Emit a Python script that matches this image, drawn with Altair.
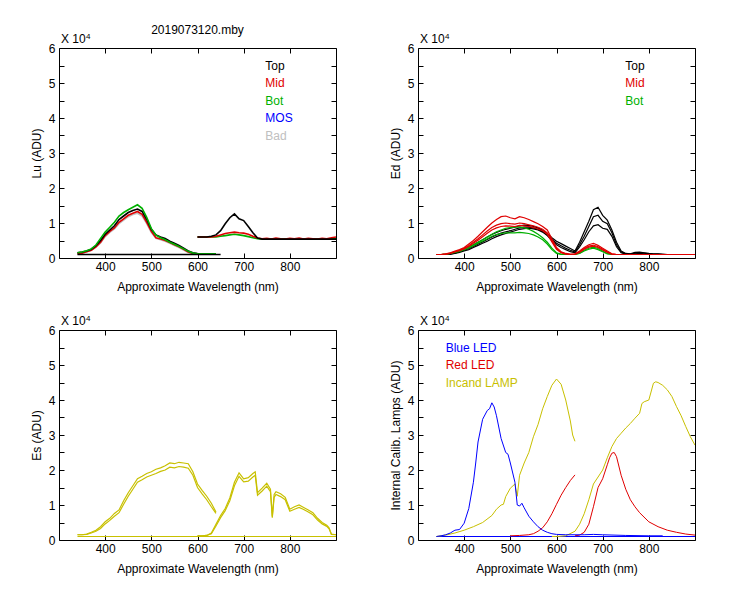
import altair as alt
import pandas as pd

# ---------------- axis tick positions / labels ----------------
XTICKS = [400, 500, 600, 700, 800]
YTICKS = [0.0, 0.5, 1.0, 1.5, 2.0, 2.5, 3.0, 3.5, 4.0, 4.5, 5.0, 5.5, 6.0]
EXP_TEXT = ["X 10"]
EXP_SUP = ["4"]
MAIN_TITLE = ["2019073120.mby"]

GROUPS = ["Top", "Mid", "Bot", "MOS", "Bad", "Blue LED", "Red LED", "Incand LAMP", "Es"]
GROUP_COLORS = ["#000000", "#e00000", "#00b000", "#0000ff", "#c0c0c0",
                "#0000ff", "#e00000", "#c8c000", "#c8c000"]

# ---------------- Lu panel ----------------
LU_WL1 = list(range(340, 641, 10))
LU_TOP1 = [0.15, 0.17, 0.20, 0.25, 0.35, 0.50, 0.68, 0.80, 0.92, 1.10,
           1.20, 1.30, 1.36, 1.40, 1.33, 1.10, 0.82, 0.66, 0.60, 0.56,
           0.48, 0.42, 0.36, 0.28, 0.20, 0.15, 0.13, 0.12, 0.12, 0.12,
           0.12]
LU_BOT1 = [0.15, 0.17, 0.21, 0.26, 0.37, 0.56, 0.74, 0.88, 1.02, 1.20,
           1.30, 1.38, 1.45, 1.52, 1.42, 1.16, 0.84, 0.65, 0.58, 0.52,
           0.45, 0.39, 0.33, 0.26, 0.19, 0.14, 0.12, 0.12, 0.12, 0.12,
           0.12]
LU_MID1 = [0.12, 0.14, 0.18, 0.22, 0.32, 0.45, 0.64, 0.76, 0.86, 1.02,
           1.12, 1.22, 1.28, 1.33, 1.25, 1.02, 0.76, 0.58, 0.54, 0.50,
           0.44, 0.38, 0.32, 0.25, 0.17, 0.13, 0.12, 0.12, 0.12, 0.12,
           0.12]
LU_BAD1 = [0.13, 0.15, 0.18, 0.22, 0.31, 0.43, 0.61, 0.73, 0.83, 0.98,
           1.08, 1.18, 1.24, 1.28, 1.20, 0.98, 0.73, 0.56, 0.52, 0.48,
           0.42, 0.36, 0.30, 0.23, 0.16, 0.13, 0.12, 0.12, 0.12, 0.12,
           0.12]
LU_BASE_WL = [340, 650]
LU_BASE = [0.10, 0.10]
LU_WL2 = list(range(600, 901, 10))
LU_TOP2 = [0.60, 0.60, 0.60, 0.62, 0.66, 0.78, 0.98, 1.15, 1.26, 1.12,
           1.07, 0.90, 0.72, 0.57, 0.54, 0.54, 0.54, 0.54, 0.54, 0.54,
           0.54, 0.54, 0.54, 0.54, 0.54, 0.54, 0.54, 0.54, 0.54, 0.54,
           0.54]
LU_MID2 = [0.60, 0.60, 0.60, 0.60, 0.62, 0.66, 0.70, 0.72, 0.74, 0.72,
           0.71, 0.68, 0.62, 0.57, 0.55, 0.56, 0.54, 0.57, 0.55, 0.54,
           0.56, 0.55, 0.57, 0.54, 0.56, 0.55, 0.54, 0.56, 0.55, 0.58,
           0.60]
LU_BOT2 = [0.60, 0.60, 0.60, 0.60, 0.60, 0.62, 0.64, 0.66, 0.68, 0.66,
           0.64, 0.61, 0.58, 0.55, 0.54, 0.55, 0.54, 0.55, 0.54, 0.55,
           0.54, 0.55, 0.54, 0.55, 0.54, 0.55, 0.54, 0.55, 0.54, 0.55,
           0.56]
LU_LEGEND = ["Top", "Mid", "Bot", "MOS", "Bad"]
LU_LEGEND_Y = [5.5, 5.0, 4.5, 4.0, 3.5]

# ---------------- Ed panel ----------------
ED_WL = list(range(340, 901, 10))
ED_TOP_A = [0.10, 0.10, 0.10, 0.12, 0.16, 0.21, 0.27, 0.32, 0.38, 0.45,
            0.52, 0.60, 0.67, 0.73, 0.78, 0.82, 0.85, 0.88, 0.92, 0.94,
            0.93, 0.90, 0.86, 0.79, 0.70, 0.58, 0.48, 0.41, 0.34, 0.27,
            0.20, 0.45, 0.75, 1.05, 1.38, 1.45, 1.22, 1.08, 0.80, 0.45,
            0.20, 0.13, 0.12, 0.16, 0.17, 0.15, 0.13, 0.12, 0.12, 0.11,
            0.10, 0.10, 0.10, 0.10, 0.10, 0.10, 0.10]
ED_TOP_B = [0.10, 0.10, 0.10, 0.11, 0.14, 0.18, 0.22, 0.27, 0.33, 0.40,
            0.46, 0.53, 0.60, 0.66, 0.71, 0.75, 0.78, 0.82, 0.86, 0.88,
            0.88, 0.86, 0.82, 0.76, 0.66, 0.54, 0.42, 0.35, 0.28, 0.22,
            0.17, 0.38, 0.62, 0.90, 1.18, 1.22, 1.05, 0.98, 0.72, 0.38,
            0.17, 0.12, 0.11, 0.14, 0.15, 0.14, 0.12, 0.11, 0.11, 0.10,
            0.10, 0.10, 0.10, 0.10, 0.10, 0.10, 0.10]
ED_TOP_C = [0.10, 0.10, 0.10, 0.11, 0.13, 0.16, 0.20, 0.24, 0.30, 0.36,
            0.42, 0.48, 0.55, 0.61, 0.66, 0.70, 0.74, 0.78, 0.82, 0.84,
            0.85, 0.83, 0.80, 0.74, 0.64, 0.50, 0.38, 0.30, 0.24, 0.18,
            0.15, 0.32, 0.52, 0.75, 0.92, 0.95, 0.85, 0.82, 0.62, 0.32,
            0.15, 0.11, 0.11, 0.12, 0.13, 0.12, 0.11, 0.10, 0.10, 0.10,
            0.10, 0.10, 0.10, 0.10, 0.10, 0.10, 0.10]
ED_MID_A = [0.10, 0.10, 0.12, 0.15, 0.20, 0.24, 0.30, 0.40, 0.50, 0.62,
            0.75, 0.88, 1.00, 1.10, 1.18, 1.20, 1.15, 1.12, 1.18, 1.15,
            1.10, 1.04, 0.98, 0.90, 0.80, 0.55, 0.30, 0.18, 0.13, 0.11,
            0.12, 0.20, 0.30, 0.38, 0.42, 0.36, 0.28, 0.20, 0.12, 0.10,
            0.10, 0.10, 0.10, 0.10, 0.10, 0.10, 0.10, 0.10, 0.10, 0.10,
            0.10, 0.10, 0.10, 0.10, 0.10, 0.10, 0.10]
ED_MID_B = [0.10, 0.10, 0.11, 0.14, 0.18, 0.22, 0.28, 0.36, 0.45, 0.55,
            0.66, 0.77, 0.87, 0.94, 0.98, 1.00, 0.98, 0.97, 1.00, 0.98,
            0.95, 0.92, 0.88, 0.82, 0.72, 0.50, 0.27, 0.16, 0.12, 0.10,
            0.11, 0.18, 0.27, 0.34, 0.37, 0.32, 0.25, 0.17, 0.11, 0.10,
            0.10, 0.10, 0.10, 0.10, 0.10, 0.10, 0.10, 0.10, 0.10, 0.10,
            0.10, 0.10, 0.10, 0.10, 0.10, 0.10, 0.10]
ED_MID_C = [0.10, 0.10, 0.11, 0.13, 0.17, 0.21, 0.26, 0.33, 0.42, 0.51,
            0.61, 0.71, 0.80, 0.86, 0.90, 0.92, 0.91, 0.90, 0.93, 0.92,
            0.90, 0.87, 0.83, 0.78, 0.68, 0.46, 0.25, 0.15, 0.11, 0.10,
            0.10, 0.16, 0.25, 0.31, 0.34, 0.30, 0.23, 0.16, 0.11, 0.10,
            0.10, 0.10, 0.10, 0.10, 0.10, 0.10, 0.10, 0.10, 0.10, 0.10,
            0.10, 0.10, 0.10, 0.10, 0.10, 0.10, 0.10]
ED_BOT_A = [0.10, 0.10, 0.11, 0.13, 0.17, 0.20, 0.25, 0.31, 0.38, 0.45,
            0.52, 0.60, 0.68, 0.75, 0.80, 0.85, 0.87, 0.88, 0.88, 0.86,
            0.82, 0.76, 0.68, 0.58, 0.45, 0.28, 0.15, 0.11, 0.10, 0.10,
            0.10, 0.14, 0.22, 0.28, 0.31, 0.27, 0.20, 0.13, 0.10, 0.10,
            0.10, 0.10, 0.10, 0.10, 0.10, 0.10, 0.10, 0.10, 0.10, 0.10,
            0.10, 0.10, 0.10, 0.10, 0.10, 0.10, 0.10]
ED_BOT_B = [0.10, 0.10, 0.11, 0.13, 0.16, 0.19, 0.24, 0.29, 0.35, 0.42,
            0.48, 0.55, 0.62, 0.67, 0.70, 0.72, 0.72, 0.72, 0.73, 0.72,
            0.70, 0.66, 0.60, 0.52, 0.40, 0.24, 0.13, 0.10, 0.10, 0.10,
            0.10, 0.13, 0.20, 0.25, 0.28, 0.24, 0.18, 0.12, 0.10, 0.10,
            0.10, 0.10, 0.10, 0.10, 0.10, 0.10, 0.10, 0.10, 0.10, 0.10,
            0.10, 0.10, 0.10, 0.10, 0.10, 0.10, 0.10]
ED_LEGEND = ["Top", "Mid", "Bot"]
ED_LEGEND_Y = [5.5, 5.0, 4.5]

# ---------------- Es panel ----------------
ES_WL1 = list(range(340, 641, 10))
ES_A1 = [0.15, 0.15, 0.17, 0.22, 0.28, 0.38, 0.52, 0.62, 0.76, 0.86,
         1.12, 1.35, 1.55, 1.75, 1.82, 1.90, 1.95, 2.02, 2.06, 2.12,
         2.20, 2.18, 2.22, 2.20, 2.18, 1.95, 1.60, 1.42, 1.25, 1.05,
         0.80]
ES_B1 = [0.15, 0.15, 0.16, 0.20, 0.25, 0.33, 0.46, 0.56, 0.68, 0.78,
         1.02, 1.25, 1.45, 1.65, 1.72, 1.80, 1.85, 1.90, 1.96, 2.00,
         2.08, 2.06, 2.10, 2.08, 2.05, 1.85, 1.50, 1.32, 1.15, 0.95,
         0.76]
ES_WL2 = [600, 610, 620, 630, 640, 650, 660, 670, 680, 690,
          700, 710, 720, 725, 730, 740, 750, 758, 762, 766,
          770, 780, 790, 800, 810, 820, 830, 840, 850, 860,
          870, 880, 885, 890, 900]
ES_A2 = [0.12, 0.12, 0.13, 0.20, 0.45, 0.70, 0.90, 1.20, 1.65, 1.92,
         1.75, 1.78, 1.90, 1.95, 1.35, 1.48, 1.62, 1.45, 0.67, 1.30,
         1.38, 1.32, 1.22, 0.88, 0.95, 1.00, 0.93, 0.86, 0.78, 0.62,
         0.50, 0.42, 0.35, 0.17, 0.15]
ES_B2 = [0.12, 0.12, 0.13, 0.18, 0.40, 0.64, 0.84, 1.12, 1.55, 1.82,
         1.66, 1.68, 1.80, 1.85, 1.28, 1.40, 1.54, 1.38, 0.64, 1.22,
         1.30, 1.24, 1.15, 0.82, 0.88, 0.93, 0.87, 0.80, 0.72, 0.57,
         0.46, 0.39, 0.32, 0.16, 0.15]
ES_BASE_WL = [340, 900]
ES_BASE = [0.10, 0.10]

# ---------------- Internal calibration lamps ----------------
BLUE_WL = [340, 350, 360, 370, 380, 390, 400, 410, 420, 425,
           430, 440, 450, 455, 460, 465, 470, 480, 490, 495,
           500, 510, 515, 520, 525, 530, 540, 550, 560, 570,
           580, 590, 600, 620, 640, 660, 680, 700, 750, 800,
           830]
BLUE = [0.10, 0.12, 0.15, 0.20, 0.28, 0.30, 0.48, 0.90, 1.65, 2.20,
        2.80, 3.45, 3.70, 3.75, 3.92, 3.80, 3.55, 2.90, 2.50, 2.45,
        2.20, 1.65, 1.00, 0.97, 1.05, 0.92, 0.68, 0.52, 0.38, 0.28,
        0.22, 0.18, 0.16, 0.15, 0.15, 0.15, 0.16, 0.15, 0.13, 0.12,
        0.12]
BLUE_BASE_WL = [340, 900]
BLUE_BASE = [0.10, 0.10]
RED_WL1 = [500, 520, 540, 550, 560, 570, 580, 590, 600, 610, 620, 630, 640]
RED1 = [0.12, 0.13, 0.15, 0.18, 0.25, 0.35, 0.52, 0.75, 1.02, 1.28, 1.50, 1.70, 1.86]
RED_WL2 = [640, 650, 660, 670, 680, 690, 700, 710, 715, 720,
           725, 730, 740, 750, 760, 770, 780, 800, 820, 840,
           860, 880, 900]
RED2 = [0.12, 0.14, 0.22, 0.45, 0.95, 1.50, 1.75, 2.15, 2.35, 2.48,
        2.50, 2.38, 1.85, 1.45, 1.15, 0.95, 0.78, 0.52, 0.38, 0.28,
        0.22, 0.17, 0.14]
LAMP_WL1 = [340, 360, 380, 400, 420, 440, 460, 470, 480, 485,
            490, 500, 510, 515, 520, 530, 540, 550, 560, 570,
            580, 590, 600, 610, 620, 630, 635, 640]
LAMP1 = [0.10, 0.14, 0.20, 0.28, 0.38, 0.50, 0.70, 0.88, 1.00, 1.02,
         1.24, 1.48, 1.60, 1.25, 1.85, 2.20, 2.50, 2.95, 3.30, 3.75,
         4.10, 4.42, 4.60, 4.45, 4.00, 3.40, 3.00, 2.82]
LAMP_WL2 = [590, 600, 620, 640, 650, 660, 670, 680, 690, 700,
            710, 720, 730, 740, 750, 760, 770, 780, 785, 790,
            800, 810, 815, 820, 830, 840, 850, 860, 870, 880,
            890, 900]
LAMP2 = [0.10, 0.10, 0.12, 0.25, 0.45, 0.75, 1.15, 1.60, 1.80, 2.00,
         2.35, 2.67, 2.90, 3.05, 3.20, 3.33, 3.48, 3.62, 3.90, 3.95,
         4.00, 4.48, 4.52, 4.50, 4.42, 4.29, 4.10, 3.81, 3.55, 3.24,
         2.95, 2.71]
LAMP_LEGEND = ["Blue LED", "Red LED", "Incand LAMP"]
LAMP_LEGEND_Y = [5.5, 5.0, 4.5]

FONT = "Liberation Sans"
W, H = 277, 210


def lines_df(series):
    rows = []
    for sid, grp, wls, vals in series:
        for w, v in zip(wls, vals):
            rows.append({"wl": w, "val": v, "series": sid, "grp": grp})
    return pd.DataFrame(rows)


def legend_df(labels, ys, xpos):
    return pd.DataFrame({"wl": [xpos] * len(labels), "val": ys,
                         "label": labels, "grp": labels})


def panel(series, legend, ytitle, title=None, stroke=1.0):
    xs = alt.Scale(domain=[300, 900], nice=False, zero=False)
    ys = alt.Scale(domain=[0, 6], nice=False, zero=False)
    cs = alt.Scale(domain=GROUPS, range=GROUP_COLORS)
    common = dict(grid=False, domain=False, ticks=True, tickSize=5, offset=-5,
                  tickColor="black", tickWidth=1, labelOverlap=False, labelFlush=False)
    x_bottom = alt.Axis(values=XTICKS, title="Approximate Wavelength (nm)",
                        labelPadding=3, titlePadding=9, **common)
    y_left = alt.Axis(values=YTICKS, title=ytitle, labelPadding=4, titlePadding=5,
                      labelExpr="datum.value % 1 == 0 ? format(datum.value, 'd') : ''",
                      **common)
    x_top = alt.Axis(values=XTICKS, orient="top", labels=False, title=None, **common)
    y_right = alt.Axis(values=YTICKS, orient="right", labels=False, title=None, **common)

    df = lines_df(series)
    ln = alt.Chart(df).mark_line(strokeWidth=stroke, clip=True).encode(
        x=alt.X("wl:Q", scale=xs, axis=x_bottom),
        y=alt.Y("val:Q", scale=ys, axis=y_left),
        color=alt.Color("grp:N", scale=cs, legend=None),
        detail="series:N")
    frame = alt.Chart(df).mark_line(opacity=0).encode(
        x=alt.X("wl:Q", scale=xs, axis=x_top),
        y=alt.Y("val:Q", scale=ys, axis=y_right),
        detail="series:N")
    exp1 = alt.Chart(pd.DataFrame({"t": EXP_TEXT})).mark_text(
        align="left", baseline="bottom", font=FONT, fontSize=12, color="black").encode(
        text="t:N", x=alt.value(2), y=alt.value(-2))
    exp2 = alt.Chart(pd.DataFrame({"t": EXP_SUP})).mark_text(
        align="left", baseline="bottom", font=FONT, fontSize=8, color="black").encode(
        text="t:N", x=alt.value(27), y=alt.value(-7))
    layers = [ln, frame, exp1, exp2]
    if legend is not None:
        lg = alt.Chart(legend).mark_text(align="left", baseline="middle", font=FONT,
                                         fontSize=12).encode(
            x=alt.X("wl:Q", scale=xs, axis=None), y=alt.Y("val:Q", scale=ys, axis=None),
            text="label:N",
            color=alt.Color("grp:N", scale=cs, legend=None))
        layers.append(lg)
    if title:
        tt = alt.Chart(pd.DataFrame({"t": title})).mark_text(
            align="center", baseline="middle", font=FONT, fontSize=12, color="black").encode(
            text="t:N", x=alt.value(W / 2), y=alt.value(-18))
        layers.append(tt)
    return alt.layer(*layers).resolve_axis(x="independent", y="independent").properties(
        width=W, height=H)


lu = panel([
    ("lu_bad1", "Bad", LU_WL1, LU_BAD1),
    ("lu_mid1", "Mid", LU_WL1, LU_MID1),
    ("lu_top1", "Top", LU_WL1, LU_TOP1),
    ("lu_bot1", "Bot", LU_WL1, LU_BOT1),
    ("lu_base", "Top", LU_BASE_WL, LU_BASE),
    ("lu_bot2", "Bot", LU_WL2, LU_BOT2),
    ("lu_mid2", "Mid", LU_WL2, LU_MID2),
    ("lu_top2", "Top", LU_WL2, LU_TOP2),
], legend_df(LU_LEGEND, LU_LEGEND_Y, 747), "Lu (ADU)", title=MAIN_TITLE, stroke=1.6)

ed = panel([
    ("ed_top_a", "Top", ED_WL, ED_TOP_A),
    ("ed_top_b", "Top", ED_WL, ED_TOP_B),
    ("ed_top_c", "Top", ED_WL, ED_TOP_C),
    ("ed_bot_a", "Bot", ED_WL, ED_BOT_A),
    ("ed_bot_b", "Bot", ED_WL, ED_BOT_B),
    ("ed_mid_a", "Mid", ED_WL, ED_MID_A),
    ("ed_mid_b", "Mid", ED_WL, ED_MID_B),
    ("ed_mid_c", "Mid", ED_WL, ED_MID_C),
], legend_df(ED_LEGEND, ED_LEGEND_Y, 749), "Ed  (ADU)", stroke=1.2)

es = panel([
    ("es_base", "Es", ES_BASE_WL, ES_BASE),
    ("es_a1", "Es", ES_WL1, ES_A1),
    ("es_b1", "Es", ES_WL1, ES_B1),
    ("es_a2", "Es", ES_WL2, ES_A2),
    ("es_b2", "Es", ES_WL2, ES_B2),
], None, "Es  (ADU)", stroke=1.2)

lamps = panel([
    ("blue_base", "Blue LED", BLUE_BASE_WL, BLUE_BASE),
    ("lamp1", "Incand LAMP", LAMP_WL1, LAMP1),
    ("lamp2", "Incand LAMP", LAMP_WL2, LAMP2),
    ("red1", "Red LED", RED_WL1, RED1),
    ("red2", "Red LED", RED_WL2, RED2),
    ("blue", "Blue LED", BLUE_WL, BLUE),
], legend_df(LAMP_LEGEND, LAMP_LEGEND_Y, 360), "Internal Calib. Lamps (ADU)", stroke=1.0)

chart = alt.concat(lu, ed, es, lamps, columns=2, spacing={"row": 72, "column": 82},
                   bounds="flush").configure_view(
    stroke="black", strokeWidth=1
).configure_axis(
    labelFont=FONT, titleFont=FONT, labelFontSize=12, titleFontSize=12,
    titleFontWeight="normal", labelColor="black", titleColor="black"
).properties(background="white", padding={"left": 21, "top": 15, "right": 5, "bottom": 5})

chart.save("out.html", embed_options={"renderer": "svg", "actions": False})
